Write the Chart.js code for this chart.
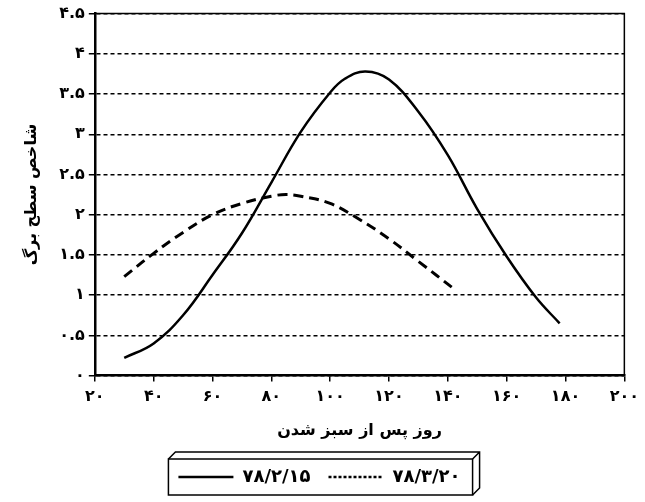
<!DOCTYPE html>
<html lang="fa">
<head>
<meta charset="utf-8">
<title>شاخص سطح برگ</title>
<script src="https://cdn.jsdelivr.net/npm/chart.js@4.4.1/dist/chart.umd.min.js"></script>
<style>
    body { margin: 0; background: #fff; }
    canvas { display: block; }
</style>
</head>
<body>
<canvas id="myChart" width="645" height="502"></canvas>
<script>
// Datos: días después de la emergencia y el índice de área foliar
const dias1 = [30, 40, 50, 60, 70, 80, 90, 100, 105, 112, 120, 130, 140, 150, 160, 170, 178];
const lai1 = [0.22, 0.40, 0.75, 1.25, 1.77, 2.40, 3.03, 3.52, 3.69, 3.78, 3.68, 3.28, 2.74, 2.07, 1.48, 0.97, 0.65];

const dias2 = [30, 40, 50, 60, 70, 80, 85, 90, 100, 110, 120, 130, 142];
const lai2 = [1.23, 1.52, 1.78, 2.00, 2.14, 2.23, 2.25, 2.23, 2.14, 1.94, 1.70, 1.42, 1.08];

const etiquetas = ['۷۸/۲/۱۵', '۷۸/۳/۲۰'];
const tituloX = 'روز پس از سبز شدن';
const tituloY = 'شاخص سطح برگ';

// Números con dígitos persas
const digitosFa = '۰۱۲۳۴۵۶۷۸۹';
const aFarsi = (n) => String(n).replace(/\d/g, d => digitosFa[d]);

const fuente = 'DejaVu Sans';

// Marco de la leyenda con aspecto de caja en relieve
const marcoLeyenda = {
    id: 'marcoLeyenda',
    afterDraw(chart) {
        const cajas = chart.legend.legendHitBoxes;
        if (!cajas || !cajas.length) return;
        const c = chart.ctx;
        const ult = cajas[cajas.length - 1];
        const x1 = cajas[0].left - 10;
        const x2 = ult.left + ult.width + 12;
        const y1 = cajas[0].top - 9;
        const y2 = cajas[0].top + cajas[0].height + 9;
        const d = 7;
        c.save();
        c.strokeStyle = '#000';
        c.lineWidth = 1.5;
        c.strokeRect(x1, y1, x2 - x1, y2 - y1);
        c.beginPath();
        c.moveTo(x1, y1);
        c.lineTo(x1 + d, y1 - d);
        c.lineTo(x2 + d, y1 - d);
        c.lineTo(x2 + d, y2 - d);
        c.lineTo(x2, y2);
        c.moveTo(x2, y1);
        c.lineTo(x2 + d, y1 - d);
        c.stroke();
        c.restore();
    }
};

// Borde superior y derecho del área del gráfico
const marcoArea = {
    id: 'marcoArea',
    afterDraw(chart) {
        const a = chart.chartArea;
        const c = chart.ctx;
        c.save();
        c.strokeStyle = '#000';
        c.lineWidth = 1.5;
        c.beginPath();
        c.moveTo(a.left, a.top);
        c.lineTo(a.right, a.top);
        c.lineTo(a.right, a.bottom);
        c.stroke();
        c.restore();
    }
};

document.addEventListener('DOMContentLoaded', function() {
    const ctx = document.getElementById('myChart').getContext('2d');

    const myChart = new Chart(ctx, {
        type: 'line',
        data: {
            datasets: [{
                label: etiquetas[0],
                data: dias1.map((d, i) => ({ x: d, y: lai1[i] })),
                borderColor: '#000',
                borderWidth: 2.5,
                pointRadius: 0,
                tension: 0.4,
                fill: false
            }, {
                label: etiquetas[1],
                data: dias2.map((d, i) => ({ x: d, y: lai2[i] })),
                borderColor: '#000',
                borderWidth: 3,
                borderDash: [10, 6],
                pointRadius: 0,
                tension: 0.4,
                fill: false
            }]
        },
        options: {
            responsive: false,
            animation: false,
            layout: {
                padding: { top: 8, right: 14, bottom: 6, left: 8 }
            },
            plugins: {
                tooltip: { enabled: false },
                legend: {
                    position: 'bottom',
                    labels: {
                        color: '#000',
                        font: { family: fuente, size: 18, weight: 'bold' },
                        usePointStyle: true,
                        pointStyle: 'line',
                        pointStyleWidth: 55,
                        padding: 18,
                        generateLabels(chart) {
                            const items = Chart.defaults.plugins.legend.labels.generateLabels(chart);
                            items.forEach((it, i) => {
                                it.lineWidth = 2.5;
                                it.lineDash = i === 1 ? [3, 2] : [];
                            });
                            return items;
                        }
                    }
                }
            },
            scales: {
                x: {
                    type: 'linear',
                    min: 20,
                    max: 200,
                    ticks: {
                        stepSize: 20,
                        color: '#000',
                        font: { family: fuente, size: 16, weight: 'bold' },
                        maxRotation: 0,
                        padding: 6,
                        callback: (v) => aFarsi(v)
                    },
                    grid: {
                        drawOnChartArea: false,
                        color: '#000',
                        lineWidth: 1.5,
                        tickLength: 6
                    },
                    border: { color: '#000', width: 2.5 },
                    title: {
                        display: true,
                        text: tituloX,
                        color: '#000',
                        font: { family: fuente, size: 16, weight: 'bold' },
                        padding: { top: 8, bottom: 10 }
                    }
                },
                y: {
                    min: 0,
                    max: 4.5,
                    ticks: {
                        stepSize: 0.5,
                        color: '#000',
                        font: { family: fuente, size: 16, weight: 'bold' },
                        padding: 4,
                        callback: (v) => aFarsi(v)
                    },
                    grid: {
                        color: '#000',
                        lineWidth: 1.5,
                        tickLength: 6
                    },
                    border: { color: '#000', width: 2.5, dash: [4, 3] },
                    title: {
                        display: true,
                        text: tituloY,
                        color: '#000',
                        font: { family: fuente, size: 16, weight: 'bold' },
                        padding: 14
                    }
                }
            }
        },
        plugins: [marcoArea, marcoLeyenda]
    });
});
</script>
</body>
</html>
